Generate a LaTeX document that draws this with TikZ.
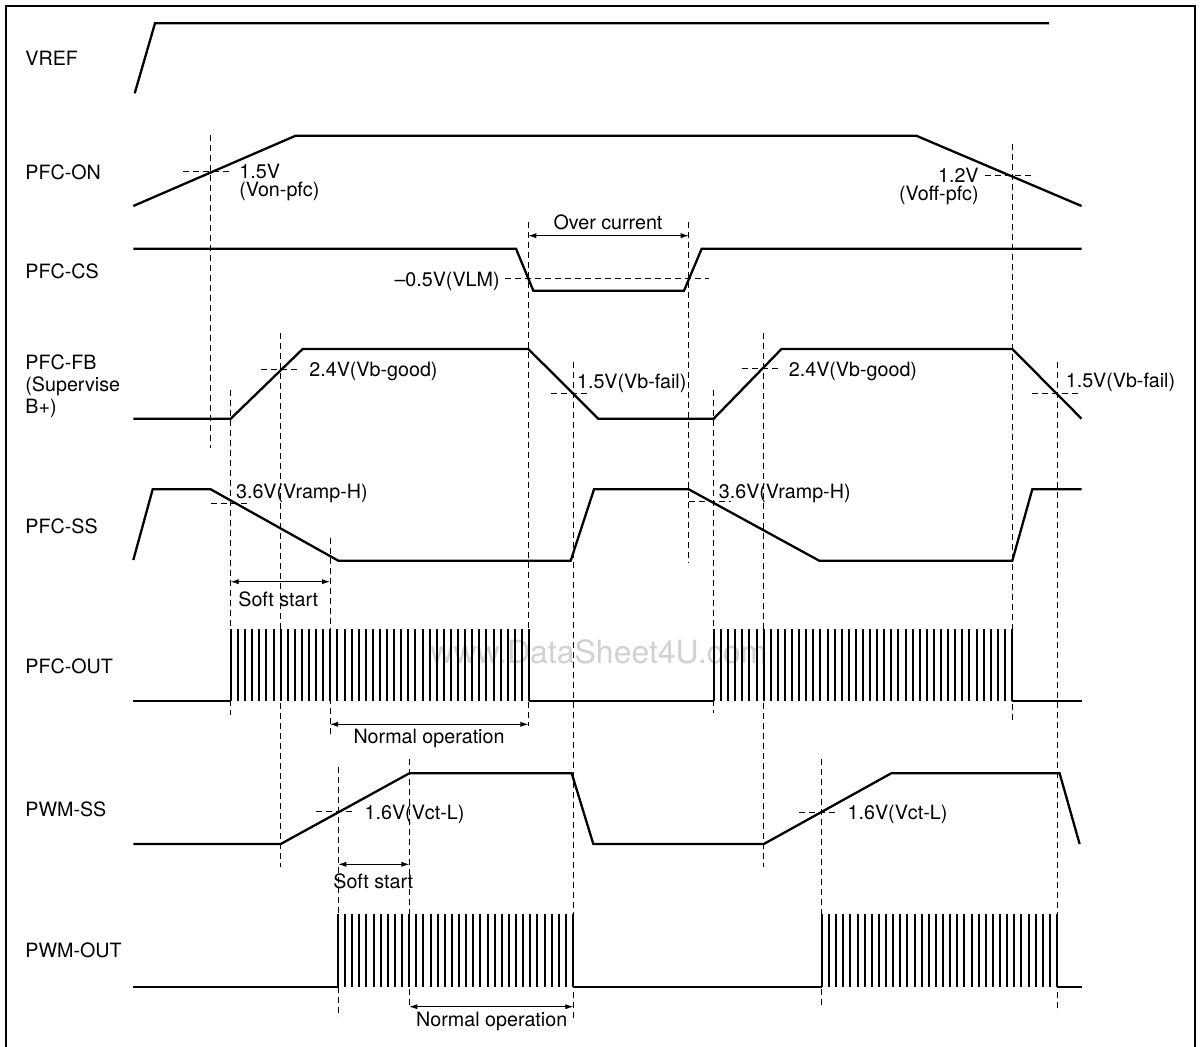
\documentclass[tikz,border=0pt]{standalone}
\usepackage{fontspec}
\setmainfont{TeX Gyre Heros}
\usetikzlibrary{arrows.meta}

\begin{document}
\begin{tikzpicture}[x=0.5pt, y=-0.5pt, >={Latex[length=4pt,width=2.6pt]},
    sig/.style={line width=1.15pt, line join=miter},
    guide/.style={line width=0.45pt, dash pattern=on 3pt off 2pt},
    dim/.style={<->, line width=0.45pt},
    lbl/.style={inner sep=0pt, font=\fontsize{9.85}{11}\selectfont}]
    \useasboundingbox (0,0) rectangle (1202,1047);

    % Frame (open at the bottom)
    \draw[line width=1pt] (5.7,1050) -- (5.7,5.7) -- (1195.4,5.7) -- (1195.4,1050);

    % Watermark
    \node[inner sep=0pt, anchor=base west, text=black!18, font=\fontsize{16}{18}\selectfont] (wm) at (430,663) {www.DataSheet4U.com};

    % Signal names
    \node[lbl, anchor=base west] (vref) at (25,65.7) {VREF};
    \node[lbl, anchor=base west] (pfcon) at (25,180) {PFC-ON};
    \node[lbl, anchor=base west] (pfccs) at (25,278.3) {PFC-CS};
    \node[lbl, anchor=base west] (pfcfb) at (25,369.3) {PFC-FB};
    \node[lbl, anchor=base west] (pfcsup) at (25,392) {(Supervise};
    \node[lbl, anchor=base west] (pfcbp) at (25,414) {B+)};
    \node[lbl, anchor=base west] (pfcss) at (25,533.3) {PFC-SS};
    \node[lbl, anchor=base west] (pfcout) at (25,673.3) {PFC-OUT};
    \node[lbl, anchor=base west] (pwmss) at (25,816.7) {PWM-SS};
    \node[lbl, anchor=base west] (pwmout) at (25,957.5) {PWM-OUT};

    % Timing guides
    \foreach \x/\t/\b in {210.3/135/448, 230.7/390/715, 280/333/866.7, 330/538/735,
        338.3/766.7/1016.7, 409.3/759/1006.7, 528.3/221.7/726, 573.3/361.7/1020,
        688.7/221.7/563.3, 713.7/390/713.3, 763.5/333/866.7, 821.5/759.3/1008.3,
        1012.3/144/723.3, 1057.3/361.7/1011.7}
        \draw[guide] (\x,\t) -- (\x,\b);

    % Threshold levels
    \draw[guide] (183,171) -- (230,171);
    \draw[guide] (984.6,175.7) -- (1032.7,175.7);
    \draw[guide] (505,278.7) -- (708.8,278.7);
    \draw[guide] (260.7,369) -- (296.7,369);
    \draw[guide] (741.5,368.3) -- (779,368.3);
    \draw[guide] (550.7,393.3) -- (588.3,393.3);
    \draw[guide] (1032.3,393.3) -- (1080.8,393.3);
    \draw[guide] (210.7,503.3) -- (248.3,503.3);
    \draw[guide] (688.8,501.3) -- (730.8,501.3);
    \draw[guide] (316,811.7) -- (353.3,811.7);
    \draw[guide] (798.5,812.7) -- (836,812.7);

    % Waveforms
    \draw[sig] (134.7,93.3) -- (155,23.3) -- (1049,23.3);
    \draw[sig] (133.3,206) -- (295.7,135.7) -- (916.2,135.7) -- (1081.5,206);
    \draw[sig] (133.3,248.7) -- (516,248.7) -- (533.3,290.7) -- (684,290.7)
        -- (701.7,248.7) -- (1081.5,248.7);
    \draw[sig] (133.3,418.7) -- (230.7,418.7) -- (302.7,349) -- (528.3,349)
        -- (598.3,418.7) -- (713.7,418.7) -- (781.5,349) -- (1012.3,349) -- (1081.5,418.7);
    \draw[sig] (133.3,560) -- (152.7,489.3) -- (210.7,489.3) -- (338.3,560.7)
        -- (570.7,560.7) -- (594,489.3) -- (688.7,489.3) -- (819.2,560.7)
        -- (1012.3,560.7) -- (1032.3,489.3) -- (1081.5,489.3);
    \draw[sig] (133.3,844) -- (280.7,844) -- (409.3,773.3) -- (571.7,773.3)
        -- (593.3,844) -- (763.8,844) -- (891.2,773.3) -- (1059.6,773.3) -- (1079.6,844);

    % Output pulse trains
    \draw[sig] (133.3,701) -- (231,701) (529,701) -- (714,701) (1012,701) -- (1081.5,701);
    \draw[sig] (133.3,987) -- (338,987) (573,987) -- (822,987) (1057,987) -- (1081.5,987);
    \foreach \a/\b/\n/\lo/\hi in {231/529/42/701/629, 714/1012/42/701/629,
        338/573/33/987/914, 822/1057/33/987/914}
        \foreach \k in {0,...,\n} {
            \pgfmathsetmacro{\xx}{round(\a+\k*(\b-\a)/\n)}
            \draw[line width=1.1pt] (\xx,\lo) -- (\xx,\hi);
        }

    % Level labels
    \node[lbl, anchor=base west] (von) at (239,178.3) {1.5V};
    \node[lbl, anchor=base west] (vonpfc) at (239,196.7) {(Von-pfc)};
    \node[lbl, anchor=base east] (voff) at (979,182.7) {1.2V};
    \node[lbl, anchor=base east] (voffpfc) at (979,201) {(Voff-pfc)};
    \node[lbl, anchor=base east] (vlm) at (500,286.7) {\textendash0.5V(VLM)};
    \node[lbl, anchor=base west] (good1) at (309,376.7) {2.4V(Vb-good)};
    \node[lbl, anchor=base west] (good2) at (788.5,376.7) {2.4V(Vb-good)};
    \node[lbl, anchor=base west] (fail1) at (576.7,388) {1.5V(Vb-fail)};
    \node[lbl, anchor=base west] (fail2) at (1065.4,387.5) {1.5V(Vb-fail)};
    \node[lbl, anchor=base west] (ramp1) at (235.7,498) {3.6V(Vramp-H)};
    \node[lbl, anchor=base west] (ramp2) at (718.5,498) {3.6V(Vramp-H)};
    \node[lbl, anchor=base west] (vct1) at (364.3,819.3) {1.6V(Vct-L)};
    \node[lbl, anchor=base west] (vct2) at (847.3,819.3) {1.6V(Vct-L)};

    % Interval arrows
    \coordinate (ocL) at (528.3,235.7);
    \coordinate (ocR) at (688.7,235.7);
    \draw[dim] (ocL) -- (ocR);
    \node[lbl, anchor=base] (oc) at (608,230) {Over current};

    \coordinate (ssL) at (230.7,581.7);
    \coordinate (ssR) at (330,581.7);
    \draw[dim] (ssL) -- (ssR);
    \node[lbl, anchor=base] (ss1) at (278.3,606.7) {Soft start};

    \coordinate (noL) at (330,724.3);
    \coordinate (noR) at (528.3,724.3);
    \draw[dim] (noL) -- (noR);
    \node[lbl, anchor=base] (no1) at (429,743) {Normal operation};

    \coordinate (psL) at (338.3,864.3);
    \coordinate (psR) at (409.3,864.3);
    \draw[dim] (psL) -- (psR);
    \node[lbl, anchor=base] (ss2) at (373.3,888.3) {Soft start};

    \coordinate (pnL) at (409.3,1006.7);
    \coordinate (pnR) at (573.3,1006.7);
    \draw[dim] (pnL) -- (pnR);
    \node[lbl, anchor=base] (no2) at (491.7,1026.7) {Normal operation};
\end{tikzpicture}
\end{document}
